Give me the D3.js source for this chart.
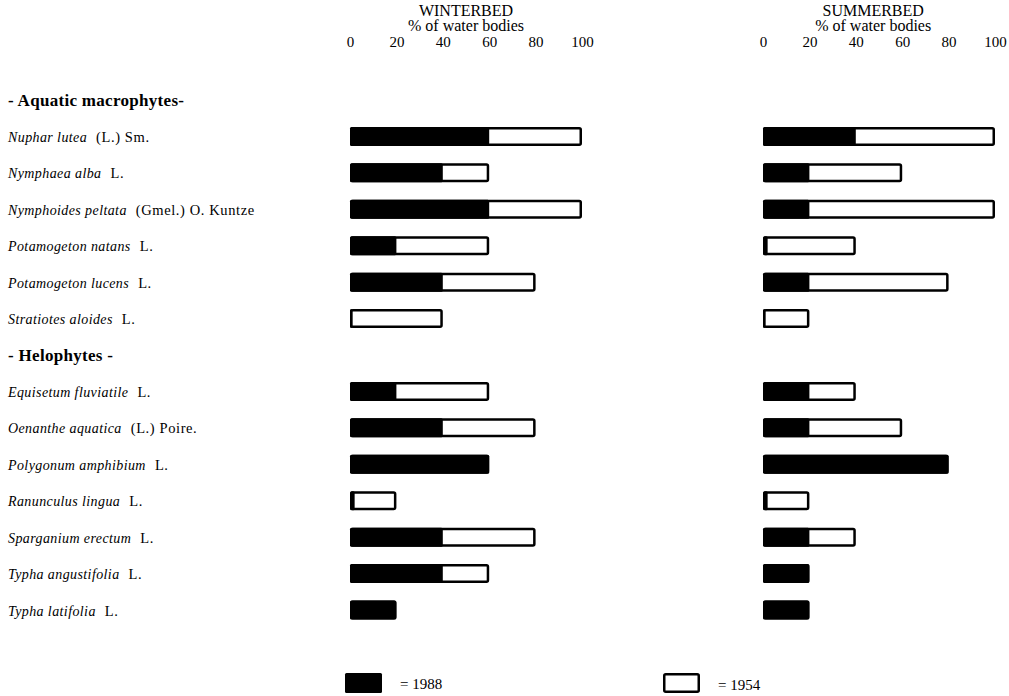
<!DOCTYPE html>
<html>
<head>
<meta charset="utf-8">
<script src="https://cdn.jsdelivr.net/npm/d3@7"></script>
<style>
  html, body { margin: 0; padding: 0; background: #fff; }
  svg { display: block; font-family: "Liberation Serif", "Times New Roman", serif; }
</style>
</head>
<body>
<svg id="chart" width="1009" height="696"></svg>
<script>
// Row layout: group headings and species, top to bottom
const rows = [
  "h:aquatic",
  "Nuphar lutea", "Nymphaea alba", "Nymphoides peltata", "Potamogeton natans",
  "Potamogeton lucens", "Stratiotes aloides",
  "h:helo",
  "Equisetum fluviatile", "Oenanthe aquatica", "Polygonum amphibium", "Ranunculus lingua",
  "Sparganium erectum", "Typha angustifolia", "Typha latifolia"
];
const headings = { "h:aquatic": "- Aquatic macrophytes-", "h:helo": "- Helophytes -" };

const species = [
  "Nuphar lutea", "Nymphaea alba", "Nymphoides peltata", "Potamogeton natans",
  "Potamogeton lucens", "Stratiotes aloides",
  "Equisetum fluviatile", "Oenanthe aquatica", "Polygonum amphibium", "Ranunculus lingua",
  "Sparganium erectum", "Typha angustifolia", "Typha latifolia"
];
const authors = [
  "(L.) Sm.", "L.", "(Gmel.) O. Kuntze", "L.", "L.", "L.",
  "L.", "(L.) Poire.", "L.", "L.", "L.", "L.", "L."
];

// % of water bodies in which each species occurs
const winter1954 = [100, 60, 100, 60, 80, 40, 60, 80, 60, 20, 80, 60, 20];
const winter1988 = [60, 40, 60, 20, 40, 1, 20, 40, 60, 2, 40, 40, 20];
const summer1954 = [100, 60, 100, 40, 80, 20, 40, 60, 80, 20, 40, 20, 20];
const summer1988 = [40, 20, 20, 2, 20, 1, 20, 20, 80, 2, 20, 20, 20];

const tickValues = [0, 20, 40, 60, 80, 100];

const svg = d3.select("#chart");

const y = d3.scalePoint().domain(rows).range([100, 610]);
const barH = 19;

const xWinter = d3.scaleLinear().domain([0, 100]).range([350, 582]);
const xSummer = d3.scaleLinear().domain([0, 100]).range([763, 995]);

// Row labels
const labels = svg.append("g").attr("class", "labels");
rows.forEach(r => {
  if (headings[r]) {
    labels.append("text")
      .attr("x", 8).attr("y", y(r)).attr("dy", "0.35em")
      .attr("font-size", 17).attr("font-weight", "bold")
      .attr("letter-spacing", 0.3)
      .text(headings[r]);
  }
});
species.forEach((s, i) => {
  const t = labels.append("text")
    .attr("x", 8).attr("y", y(s)).attr("dy", "0.35em");
  t.append("tspan").attr("font-style", "italic").attr("font-size", 14)
    .attr("letter-spacing", 0.4).text(s);
  t.append("tspan").attr("dx", 9).attr("font-size", 14.5)
    .attr("letter-spacing", 0.6).text(authors[i]);
});

// One panel of overlaid bars: 1954 as outlined white, 1988 solid black on top
function panel(x, title, centre, v1954, v1988) {
  const g = svg.append("g");
  g.append("text").attr("x", centre).attr("y", 16).attr("text-anchor", "middle")
    .attr("font-size", 16).text(title);
  g.append("text").attr("x", centre).attr("y", 31).attr("text-anchor", "middle")
    .attr("font-size", 16).text("% of water bodies");

  const axis = d3.axisTop(x).tickValues(tickValues).tickSize(0).tickPadding(0);
  const ax = g.append("g").attr("transform", "translate(0,47)").call(axis);
  ax.select(".domain").remove();
  ax.selectAll("text").attr("font-size", 15)
    .attr("font-family", "Liberation Serif, serif").attr("fill", "#000");

  const data = species.map((s, i) => ({ s, a: v1954[i], b: v1988[i] }));
  g.selectAll("rect.old").data(data).join("rect").attr("class", "old")
    .attr("x", x(0) + 1.25).attr("y", d => y(d.s) - barH / 2 + 1.25)
    .attr("width", d => Math.max(0, x(d.a) - x(0) - 2.5))
    .attr("height", barH - 2.5)
    .attr("rx", 1.5)
    .attr("fill", "#fff").attr("stroke", "#000").attr("stroke-width", 2.5);
  g.selectAll("rect.new").data(data).join("rect").attr("class", "new")
    .attr("x", x(0)).attr("y", d => y(d.s) - barH / 2)
    .attr("width", d => x(d.b) - x(0))
    .attr("height", barH)
    .attr("rx", 1.5)
    .attr("fill", "#000");
}

panel(xWinter, "WINTERBED", xWinter(50), winter1954, winter1988);
panel(xSummer, "SUMMERBED", xSummer(47.5), summer1954, summer1988);

// Legend
const legend = svg.append("g");
legend.append("rect").attr("x", 345).attr("y", 673).attr("width", 37).attr("height", 20)
  .attr("rx", 1.5).attr("fill", "#000");
legend.append("text").attr("x", 400).attr("y", 689).attr("font-size", 15).text("= 1988");
legend.append("rect").attr("x", 664.25).attr("y", 674.25).attr("width", 34.5).attr("height", 17.5)
  .attr("rx", 1.5).attr("fill", "#fff").attr("stroke", "#000").attr("stroke-width", 2.5);
legend.append("text").attr("x", 718).attr("y", 690).attr("font-size", 15).text("= 1954");
</script>
</body>
</html>
